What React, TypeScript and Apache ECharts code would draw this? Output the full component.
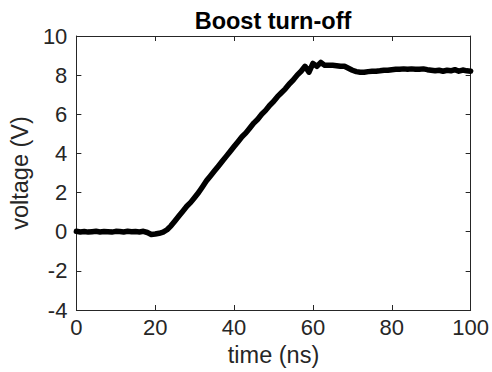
import React, { useEffect, useRef } from "react";
import * as echarts from "echarts";

const timeNs: number[] = [
  0, 1, 2, 3, 4, 5, 6, 7, 8, 9, 10, 11, 12, 13, 14, 15, 16, 17, 18, 19, 20,
  21, 22, 23, 24, 25, 26, 27, 28, 29, 30, 31, 32, 33, 34, 35, 36, 37, 38, 39, 40,
  41, 42, 43, 44, 45, 46, 47, 48, 49, 50, 51, 52, 53, 54, 55, 56, 57, 58, 59, 60,
  61, 62, 63, 64, 65, 66, 67, 68, 69, 70, 71, 72, 73, 74, 75, 76, 77, 78, 79, 80,
  81, 82, 83, 84, 85, 86, 87, 88, 89, 90, 91, 92, 93, 94, 95, 96, 97, 98, 99, 100,
];

const voltage: number[] = [
  0.02, -0.01, 0.01, -0.02, 0.0, 0.02, -0.01, 0.01, 0.0, -0.02, 0.02, 0.01, -0.01, 0.02, 0.0, 0.01, -0.01, 0.02, -0.04, -0.14, -0.12,
  -0.08, -0.02, 0.1, 0.3, 0.55, 0.8, 1.05, 1.3, 1.5, 1.75, 2.0, 2.3, 2.6, 2.85, 3.1, 3.35, 3.6, 3.85, 4.1, 4.35,
  4.6, 4.85, 5.05, 5.3, 5.55, 5.75, 6.0, 6.2, 6.45, 6.65, 6.9, 7.1, 7.3, 7.55, 7.75, 8.0, 8.2, 8.45, 8.15, 8.6,
  8.45, 8.65, 8.5, 8.5, 8.5, 8.48, 8.45, 8.45, 8.35, 8.25, 8.18, 8.15, 8.15, 8.18, 8.2, 8.2, 8.22, 8.25, 8.25, 8.28,
  8.3, 8.3, 8.32, 8.3, 8.32, 8.3, 8.3, 8.32, 8.28, 8.25, 8.22, 8.25, 8.2, 8.25, 8.22, 8.28, 8.2, 8.26, 8.22, 8.2,
];

const titleText = "Boost turn-off";
const xName = "time (ns)";
const yName = "voltage (V)";

const axisColor = "#262626";
const font = "Liberation Sans, Arial, Helvetica, sans-serif";
const fs = 23.5;
const tfs = 22;

export default function App() {
  const ref = useRef<HTMLDivElement>(null);
  useEffect(() => {
    if (!ref.current) return;
    const chart = echarts.init(ref.current, undefined, { renderer: "svg" });
    const data = timeNs.map((t, i) => [t, voltage[i]]);
    const hidden = {
      axisLabel: { show: false },
      splitLine: { show: false },
    };
    const line = { show: true, onZero: false, lineStyle: { color: axisColor, width: 1 } };
    const tick = { show: true, inside: true, length: 5, lineStyle: { color: axisColor } };
    chart.setOption({
      animation: false,
      backgroundColor: "#ffffff",
      title: {
        text: titleText,
        left: 268,
        textAlign: "center",
        top: 4,
        textStyle: { fontFamily: font, fontWeight: "bold", fontSize: fs, color: "#000" },
      },
      grid: { left: 71, right: 18, top: 36, bottom: 62, containLabel: false },
      xAxis: [
        {
          type: "value",
          min: 0,
          max: 100,
          interval: 20,
          position: "bottom",
          name: xName,
          nameLocation: "middle",
          nameGap: 30,
          nameTextStyle: { fontFamily: font, fontSize: fs, color: axisColor },
          axisLine: line,
          axisTick: tick,
          axisLabel: { fontFamily: font, fontSize: tfs, color: axisColor, margin: 6 },
          splitLine: { show: false },
        },
        {
          type: "value",
          min: 0,
          max: 100,
          interval: 20,
          position: "top",
          axisLine: line,
          axisTick: tick,
          ...hidden,
        },
      ],
      yAxis: [
        {
          type: "value",
          min: -4,
          max: 10,
          interval: 2,
          position: "left",
          name: yName,
          nameLocation: "middle",
          nameGap: 38,
          nameTextStyle: { fontFamily: font, fontSize: fs, color: axisColor },
          axisLine: line,
          axisTick: tick,
          axisLabel: { fontFamily: font, fontSize: tfs, color: axisColor, margin: 9 },
          splitLine: { show: false },
        },
        {
          type: "value",
          min: -4,
          max: 10,
          interval: 2,
          position: "right",
          axisLine: line,
          axisTick: tick,
          ...hidden,
        },
      ],
      series: [
        {
          type: "line",
          data,
          xAxisIndex: 0,
          yAxisIndex: 0,
          showSymbol: false,
          lineStyle: { color: "#000000", width: 5.5, join: "round", cap: "round" },
        },
      ],
    });
    return () => chart.dispose();
  }, []);
  return (
    <div
      ref={ref}
      style={{ position: "absolute", left: 0, top: 0, width: 492, height: 372 }}
    />
  );
}
